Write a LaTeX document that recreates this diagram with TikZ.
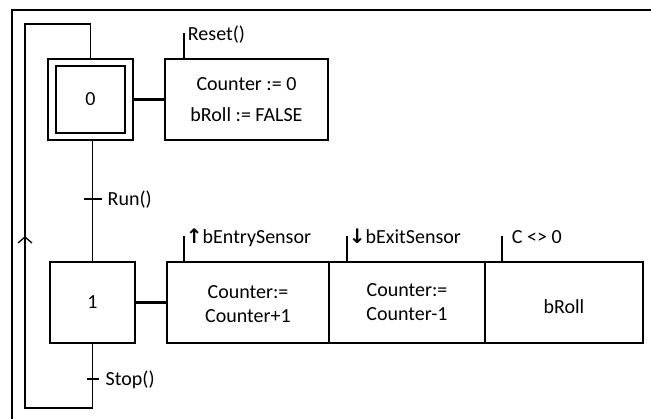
\documentclass[tikz,border=0pt]{standalone}
\usepackage{fontspec}
\setmainfont{Carlito}
\newfontfamily\arrowfont{DejaVu Sans}
\newcommand{\lowered}[2]{\raisebox{-#1}[\height][\depth]{#2}}
\begin{document}
\begin{tikzpicture}[x=1pt,y=-1pt,
  every node/.style={font=\fontsize{20}{24}\selectfont, inner sep=0pt},
  stepbox/.style={draw, line width=2.5pt, minimum width=85pt, minimum height=81pt},
  actbox/.style={draw, line width=2.5pt, minimum height=81pt, align=center},
  link/.style={line width=1.6pt},
  loopline/.style={line width=1.3pt},
  qual/.style={line width=2.5pt},
  trans/.style={line width=1.3pt},
  lbl/.style={anchor=base west}]
\useasboundingbox (0,0) rectangle (651,418);

% outer frame (top and left edges)
\coordinate (fbl) at (12,419);
\coordinate (ftl) at (12,10);
\coordinate (ftr) at (652,10);
\draw[line width=2pt] (fbl) -- (ftl) -- (ftr);

% initial step 0 (double box)
\node[stepbox] (s0) at (90.5,99.5) {0};
\draw[line width=2pt] ([shift={(9,8)}]s0.north west) rectangle ([shift={(-9,-8)}]s0.south east);

% action block of step 0
\node[actbox, minimum width=163pt, font=\fontsize{20}{31}\selectfont] (a0) at (246.5,99.5)
  {Counter := 0\\bRoll := FALSE};
\draw[link, line width=2.2pt] (s0.east) -- (a0.west);
\coordinate (q0) at ([xshift=20pt]a0.north west);
\draw[qual] (q0) -- ++(0,-25) coordinate (q0t);
\node[lbl] (q0l) at ([shift={(4,8)}]q0t) {Reset()};

% step 1
\node[stepbox] (s1) at (92.5,302.5) {1};

% action blocks of step 1
\node[actbox, minimum width=162pt, font=\fontsize{20}{24}\selectfont] (a1) at (248,302.5)
  {\lowered{2pt}{Counter:=}\\\lowered{2pt}{Counter+1}};
\node[actbox, minimum width=156pt, font=\fontsize{20}{24}\selectfont] (a2) at (407,302.5)
  {Counter:=\\Counter-1};
\node[actbox, minimum width=158pt] (a3) at (564,302.5) {\lowered{4pt}{bRoll}};
\draw[link, line width=2.2pt] (s1.east) -- (a1.west);

\coordinate (q1) at ([xshift=18pt]a1.north west);
\draw[qual] (q1) -- ++(0,-25) coordinate (q1t);
\node[lbl] (q1l) at ([shift={(2,8)}]q1t) {{\arrowfont\bfseries ↑}bEntrySensor};

\coordinate (q2) at ([xshift=19pt]a2.north west);
\draw[qual] (q2) -- ++(0,-25) coordinate (q2t);
\node[lbl] (q2l) at ([shift={(2,8)}]q2t) {{\arrowfont\bfseries ↓}bExitSensor};

\coordinate (q3) at ([xshift=18pt]a3.north west);
\draw[qual] (q3) -- ++(0,-25) coordinate (q3t);
\node[lbl] (q3l) at ([shift={(10,8)}]q3t) {C <> 0};

% link 0 -> 1 with transition Run()
\draw[link] (s1.north) -- (s1.north |- s0.south);
\coordinate (t0) at (92.5,199);
\draw[trans] ([xshift=-9pt]t0) -- ([xshift=9pt]t0);
\node[lbl] (t0l) at ([shift={(15,6.5)}]t0) {Run()};

% transition Stop() and return loop to step 0
\coordinate (t1) at (92.5,379);
\coordinate (lt) at (25,24);
\coordinate (lb) at (25,408);
\coordinate (la) at (25,237);
\draw[loopline] (s1.south) -- (s1.south |- lb) -- (lb) -- (lt) -| (s0.north);
\draw[trans] ([xshift=-6pt]t1) -- ([xshift=6pt]t1);
\node[lbl] (t1l) at ([shift={(13,6.5)}]t1) {Stop()};
\draw[loopline] ([shift={(-7,6)}]la) -- (la) -- ([shift={(7,6)}]la);
\end{tikzpicture}
\end{document}
